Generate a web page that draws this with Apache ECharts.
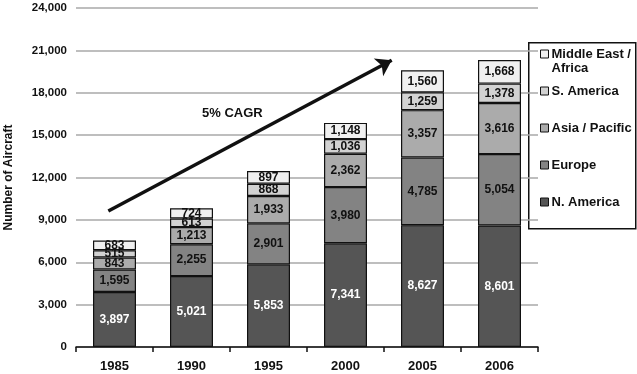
<!DOCTYPE html>
<html><head><meta charset="utf-8">
<script src="https://cdn.jsdelivr.net/npm/echarts@6/dist/echarts.min.js"></script>
<style>html,body{margin:0;padding:0;background:#fff}#c{width:637px;height:374px}</style>
</head><body><div id="c"></div>
<script>
var years = ['1985','1990','1995','2000','2005','2006'];
var nAmerica = [3897, 5021, 5853, 7341, 8627, 8601];
var europe = [1595, 2255, 2901, 3980, 4785, 5054];
var asiaPacific = [843, 1213, 1933, 2362, 3357, 3616];
var sAmerica = [515, 613, 868, 1036, 1259, 1378];
var meAfrica = [683, 724, 897, 1148, 1560, 1668];
var seriesNames = ['N. America','Europe','Asia / Pacific','S. America','Middle East / Africa'];
var yTicks = [0, 3000, 6000, 9000, 12000, 15000, 18000, 21000, 24000];
var arrowStart = [-0.08, 9630];
var arrowEnd = [3.6, 20300];
var arrowLabel = '5% CAGR';

var FONT = 'Liberation Sans, Arial, sans-serif';
var colors = ['#555555','#838383','#ababab','#d2d2d2','#f0f0f0'];
var values = [nAmerica, europe, asiaPacific, sAmerica, meAfrica];

var series = values.map(function(v, i){
  return {
    name: seriesNames[i], type: 'bar', stack: 'all', barWidth: 43,
    xAxisIndex: 0, yAxisIndex: 0,
    data: v,
    itemStyle: {color: colors[i], borderColor: '#111', borderWidth: 1.2},
    label: {show: true, position: 'inside', fontFamily: FONT, fontWeight: 'bold', fontSize: 12,
      color: i === 0 ? '#fff' : '#111',
      formatter: function(p){ return p.value.toLocaleString('en-US'); }}
  };
});
series.push({
  type: 'line', xAxisIndex: 1, yAxisIndex: 0, data: [], silent: true,
  markLine: {
    silent: true, symbol: ['none','arrow'], symbolSize: 15,
    lineStyle: {color: '#111', width: 3.5, type: 'solid'},
    label: {show: false},
    data: [[{coord: arrowStart}, {coord: arrowEnd}]]
  }
});

var legendText = {fontFamily: FONT, fontWeight: 'bold', fontSize: 13, color: '#111', lineHeight: 14, padding: [0,0,0,-2]};

var chart = echarts.init(document.getElementById('c'), null, {renderer: 'canvas'});
chart.setOption({
  animation: false,
  grid: {left: 76, right: 99, top: 8, bottom: 27, containLabel: false, outerBoundsMode: 'none'},
  xAxis: [{
    type: 'category', data: years, boundaryGap: true,
    axisLine: {lineStyle: {color: '#111', width: 1.5}},
    axisTick: {show: true, length: 5, lineStyle: {color: '#111', width: 1.5}},
    axisLabel: {fontFamily: FONT, fontWeight: 'bold', fontSize: 13, color: '#111', margin: 13}
  }, {
    type: 'value', min: -0.5, max: 5.5, show: false
  }],
  yAxis: {
    type: 'value', min: yTicks[0], max: yTicks[yTicks.length-1], interval: 3000,
    name: 'Number of Aircraft', nameLocation: 'middle', nameGap: 61, nameRotate: 90,
    nameTextStyle: {fontFamily: FONT, fontWeight: 'bold', fontSize: 12, color: '#111'},
    axisLine: {show: false}, axisTick: {show: false},
    splitLine: {lineStyle: {color: '#a8a8a8', width: 1.5}},
    axisLabel: {fontFamily: FONT, fontWeight: 'bold', fontSize: 11.5, color: '#111', margin: 9,
      formatter: function(v){ return v.toLocaleString('en-US'); }}
  },
  legend: [{
    orient: 'vertical', left: 535, top: 28, itemWidth: 8, itemHeight: 8, itemGap: 0, icon: 'rect',
    data: ['Middle East / Africa'],
    formatter: function(){ return '\nMiddle East /\nAfrica'; },
    itemStyle: {borderColor: '#111', borderWidth: 1},
    textStyle: legendText
  }, {
    orient: 'vertical', left: 535, top: 79, itemWidth: 8, itemHeight: 8, itemGap: 23, icon: 'rect',
    data: ['S. America','Asia / Pacific','Europe','N. America'],
    itemStyle: {borderColor: '#111', borderWidth: 1},
    textStyle: legendText
  }],
  graphic: [{
    type: 'rect', left: 528, top: 42, z: -1,
    shape: {width: 107, height: 186},
    style: {fill: '#fff', stroke: '#111', lineWidth: 1.5}
  }, {
    type: 'text', left: 202, top: 107,
    style: {text: arrowLabel, fontFamily: FONT, fontWeight: 'bold', fontSize: 13, fill: '#111'}
  }],
  series: series
});
</script></body></html>
